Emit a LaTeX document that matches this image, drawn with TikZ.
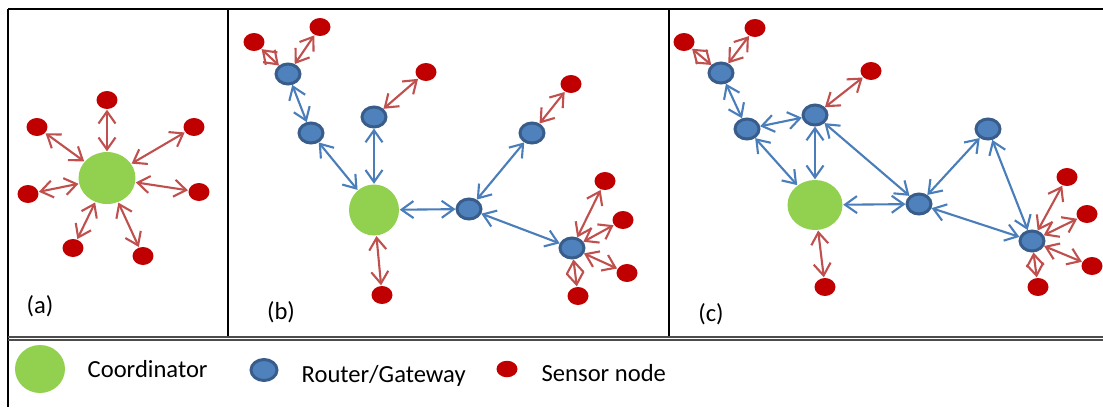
\documentclass[tikz,border=0pt]{standalone}
\usepackage{fontspec}
\setmainfont{Carlito}
\usetikzlibrary{arrows.meta,shapes.geometric}
\definecolor{coordgreen}{HTML}{92D050}
\definecolor{routerblue}{HTML}{4F81BD}
\definecolor{routerline}{HTML}{385D8A}
\definecolor{sensorred}{HTML}{C00000}
\definecolor{linkblue}{HTML}{4A7EBB}
\definecolor{linkred}{HTML}{C0504D}

\begin{document}
\begin{tikzpicture}[x=0.02cm, y=-0.02cm, thick, >={Straight Barb[length=2.4mm,width=3.4mm]}]
% Definition of nodes:
\tikzset{%
  coord/.style     = {ellipse, fill=coordgreen, minimum width=1.1cm, minimum height=1.02cm, inner sep=0pt}, % Coordinator
  router/.style    = {ellipse, draw=routerline, fill=routerblue, line width=1.7pt, minimum width=0.48cm, minimum height=0.4cm, inner sep=0pt}, % Router/Gateway
  sensor/.style    = {ellipse, fill=sensorred, minimum width=0.42cm, minimum height=0.36cm, inner sep=0pt}, % Sensor node
  blink/.style     = {<->, draw=linkblue, line width=1.2pt},
  rlink/.style     = {<->, draw=linkred, line width=1.2pt},
  frameline/.style = {draw, line width=1.1pt},
  sepline/.style   = {draw=black!70, line width=0.6pt},
  lbl/.style       = {font=\fontsize{14}{16}\selectfont, inner sep=0pt}
}
\useasboundingbox (0,0) rectangle (1103,407);

% frame
\draw[frameline] (8,9) -- (1103,9);
\draw[frameline] (8,9) -- (8,407);
\draw[frameline] (228,9) -- (228,336);
\draw[frameline] (669,9) -- (669,336);
\draw[sepline] (8,337) -- (1103,337);
\draw[sepline] (8,340) -- (1103,340);

% (a) star
\draw
	node [coord, minimum width=1.14cm, minimum height=1.04cm] (ca) at (107,178) {}
	node [sensor] (a1) at (107,100) {}
	node [sensor] (a2) at (37,127) {}
	node [sensor] (a3) at (194,127) {}
	node [sensor] (a4) at (28,194) {}
	node [sensor] (a5) at (199,192) {}
	node [sensor] (a6) at (73,248) {}
	node [sensor] (a7) at (143,256) {}
	node [lbl] (la) at (40,306) {(a)};

	\draw[rlink] (a1) -- (ca);
	\draw[rlink] (a2) -- (ca);
	\draw[rlink] (a3) -- (ca);
	\draw[rlink] (a4) -- (ca);
	\draw[rlink] (a5) -- (ca);
	\draw[rlink] (a6) -- (ca);
	\draw[rlink] (a7) -- (ca);

% (b) tree
\draw
	node [coord, minimum width=1.0cm, minimum height=1.02cm] (cb) at (374,210) {}
	node [router] (rb1) at (288,74) {}
	node [router] (rb2) at (311,133) {}
	node [router] (rb3) at (374,117) {}
	node [router] (rb4) at (469,209) {}
	node [router] (rb5) at (532,133) {}
	node [router] (rb6) at (572,248) {}
	node [sensor] (sb1) at (254,42) {}
	node [sensor] (sb2) at (320,27) {}
	node [sensor] (sb3) at (426,72) {}
	node [sensor] (sb4) at (382,295) {}
	node [sensor] (sb5) at (571,84) {}
	node [sensor] (sb6) at (605,181) {}
	node [sensor] (sb7) at (623,220) {}
	node [sensor] (sb8) at (627,273) {}
	node [sensor] (sb9) at (578,296) {}
	node [lbl] (lb) at (281,312) {(b)};

	\draw[blink] (rb1) -- (rb2);
	\draw[blink] (rb2) -- (cb);
	\draw[blink] (rb3) -- (cb);
	\draw[blink] (cb) -- (rb4);
	\draw[blink] (rb4) -- (rb5);
	\draw[blink] (rb4) -- (rb6);
	\draw[rlink] (rb1) -- (sb1);
	\draw[rlink] (rb1) -- (sb2);
	\draw[rlink] (rb3) -- (sb3);
	\draw[rlink] (cb) -- (sb4);
	\draw[rlink] (rb5) -- (sb5);
	\draw[rlink] (rb6) -- (sb6);
	\draw[rlink] (rb6) -- (sb7);
	\draw[rlink] (rb6) -- (sb8);
	\draw[rlink] (rb6) -- (sb9);

% (c) mesh
\draw
	node [coord, minimum width=1.1cm, minimum height=1.0cm] (cc) at (815,205) {}
	node [router] (rc1) at (721,73) {}
	node [router] (rc2) at (747,129) {}
	node [router] (rc3) at (815,115) {}
	node [router] (rc4) at (919,204) {}
	node [router] (rc5) at (988,129) {}
	node [router] (rc6) at (1032,241) {}
	node [sensor] (sc1) at (684,42) {}
	node [sensor] (sc2) at (755,28) {}
	node [sensor] (sc3) at (871,71) {}
	node [sensor] (sc4) at (825,287) {}
	node [sensor] (sc5) at (1067,177) {}
	node [sensor] (sc6) at (1087,214) {}
	node [sensor] (sc7) at (1092,266) {}
	node [sensor] (sc8) at (1038,287) {}
	node [lbl] (lc) at (711,314) {(c)};

	\draw[blink] (rc1) -- (rc2);
	\draw[blink] (rc2) -- (rc3);
	\draw[blink] (rc2) -- (cc);
	\draw[blink] (rc3) -- (cc);
	\draw[blink] (rc3) -- (rc4);
	\draw[blink] (cc) -- (rc4);
	\draw[blink] (rc4) -- (rc5);
	\draw[blink] (rc4) -- (rc6);
	\draw[blink] (rc5) -- (rc6);
	\draw[rlink] (rc1) -- (sc1);
	\draw[rlink] (rc1) -- (sc2);
	\draw[rlink] (rc3) -- (sc3);
	\draw[rlink] (cc) -- (sc4);
	\draw[rlink] (rc6) -- (sc5);
	\draw[rlink] (rc6) -- (sc6);
	\draw[rlink] (rc6) -- (sc7);
	\draw[rlink] (rc6) -- (sc8);

% legend
\draw
	node [coord, minimum width=1.0cm, minimum height=0.96cm] (kc) at (40,369) {}
	node [lbl, anchor=base west] (tc) at (87,377) {Coordinator}
	node [router, minimum width=0.52cm, minimum height=0.42cm] (kr) at (264,370) {}
	node [lbl, anchor=base west] (tr) at (301,382) {Router/Gateway}
	node [sensor, minimum width=0.42cm, minimum height=0.33cm] (ks) at (507,369) {}
	node [lbl, anchor=base west] (ts) at (541,381) {Sensor node};
	%
\end{tikzpicture}
\end{document}
